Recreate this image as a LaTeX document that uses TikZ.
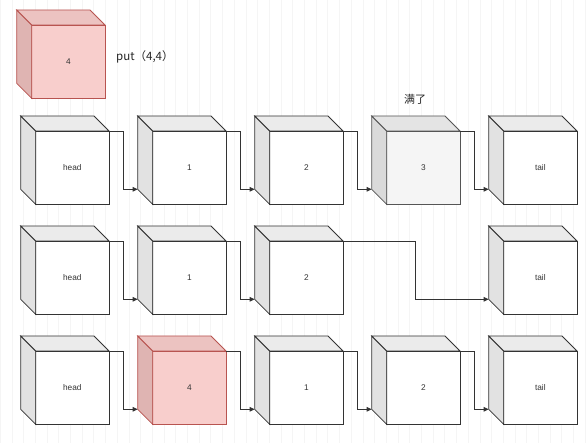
\documentclass[tikz,border=0pt]{standalone}
\usepackage{fontspec}
\setmainfont{Liberation Sans}
\newfontfamily\cjk{Noto Sans CJK SC}
\usetikzlibrary{arrows.meta,calc}
\definecolor{frontW}{HTML}{FFFFFF}
\definecolor{leftW}{HTML}{E2E2E2}
\definecolor{topW}{HTML}{EBEBEB}
\definecolor{edgeW}{HTML}{333333}
\definecolor{frontG}{HTML}{F5F5F5}
\definecolor{leftG}{HTML}{DADADA}
\definecolor{topG}{HTML}{E4E4E4}
\definecolor{edgeG}{HTML}{555555}
\definecolor{frontP}{HTML}{F8CECC}
\definecolor{leftP}{HTML}{DFB4B2}
\definecolor{topP}{HTML}{ECC3C1}
\definecolor{edgeP}{HTML}{B85450}
\definecolor{txt}{HTML}{333333}
\definecolor{gridc}{HTML}{F5F5F5}
\tikzset{
  cubefront/.style={draw, line width=0.8pt, minimum width=73.3pt, minimum height=73.3pt,
    inner sep=0pt, outer sep=0pt, font=\fontsize{8.3}{9}\selectfont, text=txt},
  face/.style={line width=0.8pt, line join=miter},
  conn/.style={draw=txt, line width=0.8pt, -{Triangle[length=5pt,width=4.5pt]}},
  note/.style={inner sep=0pt, text=black!85}
}
\newcommand\mycube[5]{%
  \node[cubefront, draw=edge#5, fill=front#5] (#1) at (#2+51.65,#3+51.65) {#4};
  \filldraw[face, draw=edge#5, fill=left#5] (#1.north west) -- ++(-15,-15) -- ++(0,73.3) -- (#1.south west) -- cycle;
  \filldraw[face, draw=edge#5, fill=top#5] (#1.north west) -- ++(-15,-15) -- ++(73.3,0) -- (#1.north east) -- cycle;
  \coordinate (#1-bl) at ($(#1.south west)+(-15,-15)$);
}
\newcommand\link[2]{%
  \draw[conn] (#1.north east) -| ($(#1.north east)!.5!(#2-bl)$) |- (#2-bl);
}
\begin{document}
\begin{tikzpicture}[x=1pt,y=-1pt]
\useasboundingbox (0,0) rectangle (586,443);
\fill[white] (0,0) rectangle (586,443);
\draw[gridc, line width=0.4pt, step=11.7] (0,0) grid (586,443);

% new node
\mycube{newnode}{16.7}{10}{4}{P}
\node[note, anchor=west, font=\cjk\fontsize{11.5}{13}\selectfont] (put) at (116,57) {put（4,4）};

% row 1
\mycube{ra}{20.7}{116}{head}{W}
\mycube{rb}{137.7}{116}{1}{W}
\mycube{rc}{254.7}{116}{2}{W}
\mycube{rd}{371.7}{116}{3}{G}
\mycube{re}{488.7}{116}{tail}{W}
\node[note, font=\cjk\fontsize{11}{13}\selectfont] (full) at (415,99) {满了};
\link{ra}{rb}
\link{rb}{rc}
\link{rc}{rd}
\link{rd}{re}

% row 2
\mycube{sa}{20.7}{226}{head}{W}
\mycube{sb}{137.7}{226}{1}{W}
\mycube{sc}{254.7}{226}{2}{W}
\mycube{se}{488.7}{226}{tail}{W}
\link{sa}{sb}
\link{sb}{sc}
\link{sc}{se}

% row 3
\mycube{ta}{20.7}{336}{head}{W}
\mycube{tb}{137.7}{336}{4}{P}
\mycube{tc}{254.7}{336}{1}{W}
\mycube{td}{371.7}{336}{2}{W}
\mycube{te}{488.7}{336}{tail}{W}
\link{ta}{tb}
\link{tb}{tc}
\link{tc}{td}
\link{td}{te}
\end{tikzpicture}
\end{document}
